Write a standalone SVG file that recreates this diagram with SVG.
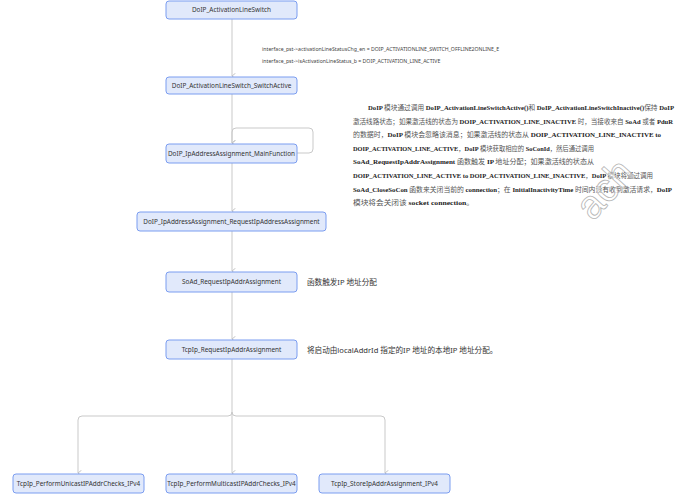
<svg xmlns="http://www.w3.org/2000/svg" width="690" height="502" viewBox="0 0 690 502">
<defs>
<style>
.node rect{fill:#e1e9fb;stroke:#7b9df0;stroke-width:1}
.node text{font-family:"Noto Sans","Open Sans",sans-serif;font-size:6.4px;fill:#333;text-anchor:middle}
.conn path{fill:none;stroke:#c9c9c9;stroke-width:1}
.elabel{font-family:"Noto Sans","Open Sans",sans-serif;font-size:5.2px;fill:#444}
.note{font-family:"Noto Sans","Noto Sans CJK SC",sans-serif;font-size:7.6px;fill:#333}
.para{font-family:"Liberation Serif","Noto Sans CJK SC",serif;font-size:7px;fill:#222;font-weight:bold}
.para .c{font-weight:normal;fill:#555;font-family:"Noto Sans CJK SC",sans-serif}
</style>
<marker id="arr" viewBox="0 0 10 10" refX="5" refY="9" markerWidth="7" markerHeight="7" orient="auto-start-reverse" markerUnits="userSpaceOnUse">
<path d="M1,4 L5,9 L9,4" fill="none" stroke="#c0c0c0" stroke-width="1.3"/>
</marker>
</defs>
<rect width="690" height="502" fill="#fff"/>
<g class="conn" id="connectors">
<path d="M232,19 V76" marker-end="url(#arr)"/>
<path d="M232,93 V143" marker-end="url(#arr)"/>
<path d="M297,153 H309 Q313,153 313,149 V132 Q313,128 309,128 H236 Q232,128 232,132 V143" marker-end="url(#arr)"/>
<path d="M232,163 V211" marker-end="url(#arr)"/>
<path d="M232,231 V271" marker-end="url(#arr)"/>
<path d="M232,292 V339" marker-end="url(#arr)"/>
<path d="M232,359 V473" marker-end="url(#arr)"/>
<path d="M232,412 Q232,416 228,416 H82 Q78,416 78,420 V473" marker-end="url(#arr)"/>
<path d="M232,412 Q232,416 236,416 H381 Q385,416 385,420 V473" marker-end="url(#arr)"/>
</g>
<text class="elabel" x="262" y="51">interface_pst-&gt;activationLineStatusChg_en = DOIP_ACTIVATIONLINE_SWITCH_OFFLINE2ONLINE_E</text>
<text class="elabel" x="262" y="63">interface_pst-&gt;isActivationLineStatus_b = DOIP_ACTIVATION_LINE_ACTIVE</text>
<g class="node" id="n1"><rect x="166" y="1" width="131" height="18" rx="3"/><text x="231.5" y="12.3">DoIP_ActivationLineSwitch</text></g>
<g class="node" id="n2"><rect x="166" y="77" width="131" height="17" rx="3"/><text x="231.5" y="87.8">DoIP_ActivationLineSwitch_SwitchActive</text></g>
<g class="node" id="n3"><rect x="166" y="144" width="131" height="19" rx="3"/><text x="231.5" y="155.8">DoIP_IpAddressAssignment_MainFunction</text></g>
<g class="node" id="n4"><rect x="137" y="212" width="189" height="19" rx="3"/><text x="231.5" y="223.8">DoIP_IpAddressAssignment_RequestIpAddressAssignment</text></g>
<g class="node" id="n5"><rect x="166" y="272" width="131" height="20" rx="3"/><text x="231.5" y="284.3">SoAd_RequestIpAddrAssignment</text></g>
<g class="node" id="n6"><rect x="166" y="340" width="131" height="19" rx="3"/><text x="231.5" y="351.8">TcpIp_RequestIpAddrAssignment</text></g>
<g class="node" id="n7"><rect x="13" y="474" width="131" height="19" rx="3"/><text x="78.5" y="485.8">TcpIp_PerformUnicastIPAddrChecks_IPv4</text></g>
<g class="node" id="n8"><rect x="166" y="474" width="131" height="19" rx="3"/><text x="231.5" y="485.8">TcpIp_PerformMulticastIPAddrChecks_IPv4</text></g>
<g class="node" id="n9"><rect x="319" y="474" width="131" height="19" rx="3"/><text x="384.5" y="485.8">TcpIp_StoreIpAddrAssignment_IPv4</text></g>
<text class="note" x="307" y="285">函数触发IP 地址分配</text>
<text class="note" x="307" y="352.5">将启动由localAddrId 指定的IP 地址的本地IP 地址分配。</text>
<g class="para">
<text x="368" y="110" textLength="306" lengthAdjust="spacingAndGlyphs">DoIP <tspan class="c">模块通过调用</tspan> DoIP_ActivationLineSwitchActive()<tspan class="c">和</tspan> DoIP_ActivationLineSwitchInactive()<tspan class="c">保持</tspan> DoIP</text>
<text x="353" y="123.6" textLength="320" lengthAdjust="spacingAndGlyphs"><tspan class="c">激活线路状态；如果激活线的状态为</tspan> DOIP_ACTIVATION_LINE_INACTIVE <tspan class="c">时，当接收来自</tspan> SoAd <tspan class="c">或者</tspan> PduR</text>
<text x="353" y="137.2" textLength="308" lengthAdjust="spacingAndGlyphs"><tspan class="c">的数据时，</tspan>DoIP <tspan class="c">模块会忽略该消息；如果激活线的状态从</tspan> DOIP_ACTIVATION_LINE_INACTIVE to</text>
<text x="353" y="150.8" textLength="241" lengthAdjust="spacingAndGlyphs">DOIP_ACTIVATION_LINE_ACTIVE<tspan class="c">，</tspan>DoIP <tspan class="c">模块获取相应的</tspan> SoConId<tspan class="c">，然后通过调用</tspan></text>
<text x="353" y="164.4" textLength="241" lengthAdjust="spacingAndGlyphs">SoAd_RequestIpAddrAssignment <tspan class="c">函数触发</tspan> IP <tspan class="c">地址分配；如果激活线的状态从</tspan></text>
<text x="353" y="178" textLength="300" lengthAdjust="spacingAndGlyphs">DOIP_ACTIVATION_LINE_ACTIVE to DOIP_ACTIVATION_LINE_INACTIVE<tspan class="c">，</tspan>DoIP <tspan class="c">模块将通过调用</tspan></text>
<text x="353" y="191.6" textLength="319" lengthAdjust="spacingAndGlyphs">SoAd_CloseSoCon <tspan class="c">函数来关闭当前的</tspan> connection<tspan class="c">；在</tspan> InitialInactivityTime <tspan class="c">时间内没有收到激活请求，</tspan>DoIP</text>
<text x="353" y="205.2" textLength="121" lengthAdjust="spacingAndGlyphs"><tspan class="c">模块将会关闭该</tspan> socket connection<tspan class="c">。</tspan></text>
</g>
<text x="0" y="0" transform="translate(593,222) rotate(-48)" font-family="Liberation Sans, sans-serif" font-size="40" fill="#fff" fill-opacity="0.5" stroke="#b5b5b5" stroke-width="0.8">ach</text>
</svg>
